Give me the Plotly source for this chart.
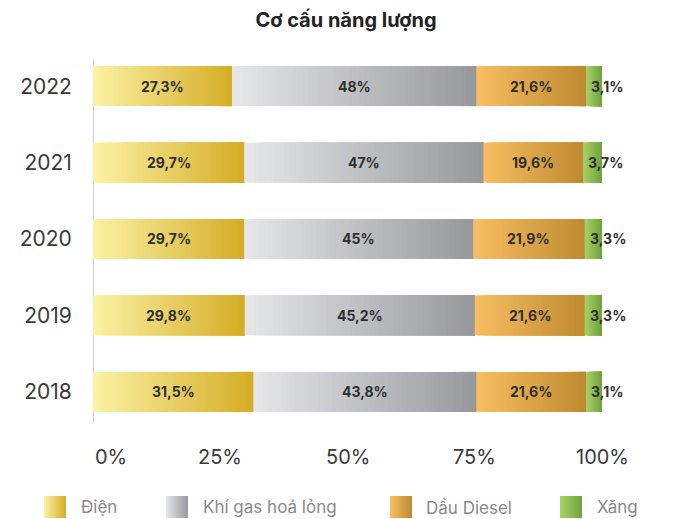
import plotly.graph_objects as go

# ---- data -------------------------------------------------------------
years = ["2018", "2019", "2020", "2021", "2022"]
series_names = ["Điện", "Khí gas hoá lỏng", "Dầu Diesel", "Xăng"]
dien = [31.5, 29.8, 29.7, 29.7, 27.3]
khi_gas = [43.8, 45.2, 45.0, 47.0, 48.0]
dau_diesel = [21.6, 21.6, 21.9, 19.6, 21.6]
xang = [3.1, 3.3, 3.3, 3.7, 3.1]
x_tick_values = [0, 25, 50, 75, 100]
x_tick_labels = ["0%", "25%", "50%", "75%", "100%"]

series_values = [dien, khi_gas, dau_diesel, xang]

# left -> right gradient colours for each series
gradients = [
    ("#FCF2A6", "#D5AD25"),
    ("#E6E7E9", "#97989C"),
    ("#F9BF62", "#BE8A30"),
    ("#A8D268", "#71A23D"),
]

W, H = 692, 519
STEPS = 48
BAR_WIDTH = 0.52
LABEL_FONT = "Inter, Roboto, 'Noto Sans', sans-serif"
row_pos = list(range(len(years)))  # 2018 at the bottom


def hex_rgb(h):
    h = h.lstrip("#")
    return tuple(int(h[i:i + 2], 16) for i in (0, 2, 4))


def mix(c0, c1, t):
    a, b = hex_rgb(c0), hex_rgb(c1)
    r = [round(a[k] + (b[k] - a[k]) * t) for k in range(3)]
    return f"rgb({r[0]},{r[1]},{r[2]})"


def fmt(v):
    return f"{v:g}".replace(".", ",") + "%"


fig = go.Figure()
annotations = []

starts = [0.0] * len(years)
for name, vals, (c0, c1) in zip(series_names, series_values, gradients):
    ys, xs, bases, cols = [], [], [], []
    for yi, v in enumerate(vals):
        s = starts[yi]
        step = v / STEPS
        # each slice runs to the end of the segment; later slices paint over
        for i in range(STEPS):
            ys.append(row_pos[yi])
            bases.append(s + i * step)
            xs.append(v - i * step)
            cols.append(mix(c0, c1, (i + 0.5) / STEPS))
        label = dict(y=row_pos[yi], xref="x", yref="y", text=f"<b>{fmt(v)}</b>",
                     showarrow=False,
                     font=dict(family=LABEL_FONT, size=14, color="#2f2f2f"))
        if name == "Xăng":
            label.update(x=s, xanchor="left", xshift=3)
        else:
            label.update(x=s + v / 2)
        annotations.append(label)
        starts[yi] = s + v
    fig.add_trace(go.Bar(
        y=ys, x=xs, base=bases, orientation="h", width=BAR_WIDTH,
        marker=dict(color=cols, line=dict(width=0)),
        name=name, showlegend=False, hoverinfo="skip",
    ))

# x tick labels
for v, t in zip(x_tick_values, x_tick_labels):
    annotations.append(dict(x=v, y=1 - 457 / H, xref="x", yref="paper", text=t,
                            showarrow=False, xanchor="left" if v == 0 else "center",
                            yanchor="middle",
                            font=dict(family=LABEL_FONT, size=20, color="#3a3a3a")))

# custom legend with gradient swatches
legend_swatch_x = [55, 177, 401, 571]
legend_text_x = [79, 201, 424, 595]
legend_y = 507
fig.add_trace(go.Scatter(
    x=legend_swatch_x, y=[legend_y] * 4, xaxis="x2", yaxis="y2", mode="markers",
    marker=dict(symbol="square", size=22, color=[g[0] for g in gradients],
                gradient=dict(type="horizontal", color=[g[1] for g in gradients]),
                line=dict(width=0)),
    showlegend=False, hoverinfo="skip", cliponaxis=False,
))
for tx, name in zip(legend_text_x, series_names):
    annotations.append(dict(x=tx / W, y=1 - legend_y / H, xref="paper", yref="paper",
                            text=name, showarrow=False, xanchor="left", yanchor="middle",
                            font=dict(family=LABEL_FONT, size=17, color="#8a8a8a")))

fig.update_layout(
    width=W, height=H,
    margin=dict(l=0, r=0, t=0, b=0),
    paper_bgcolor="white", plot_bgcolor="rgba(0,0,0,0)",
    barmode="overlay",
    title=dict(text="<b>Cơ cấu năng lượng</b>", x=0.5, xanchor="center",
               y=1 - 20 / H, yanchor="middle",
               font=dict(family=LABEL_FONT, size=20, color="#222222")),
    xaxis=dict(domain=[93 / W, 602 / W], range=[0, 100], showgrid=False,
               zeroline=False, showticklabels=False, showline=False, fixedrange=True),
    yaxis=dict(domain=[1 - 430 / H, 1 - 48 / H], range=[-0.5, 4.5],
               tickmode="array", tickvals=row_pos, ticktext=years,
               showgrid=False, zeroline=False, showline=False,
               ticks="outside", ticklen=16, tickcolor="rgba(0,0,0,0)",
               tickfont=dict(family=LABEL_FONT, size=21, color="#3a3a3a"),
               fixedrange=True),
    xaxis2=dict(domain=[0, 1], range=[0, W], visible=False, anchor="y2", fixedrange=True),
    yaxis2=dict(domain=[0, 1], range=[H, 0], visible=False, anchor="x2", fixedrange=True),
    annotations=annotations,
    shapes=[dict(type="line", xref="x", yref="y", x0=0, x1=0, y0=-0.4, y1=4.35,
                 line=dict(color="#cfcfcf", width=2), layer="below")],
)

fig.write_html("out.html")
